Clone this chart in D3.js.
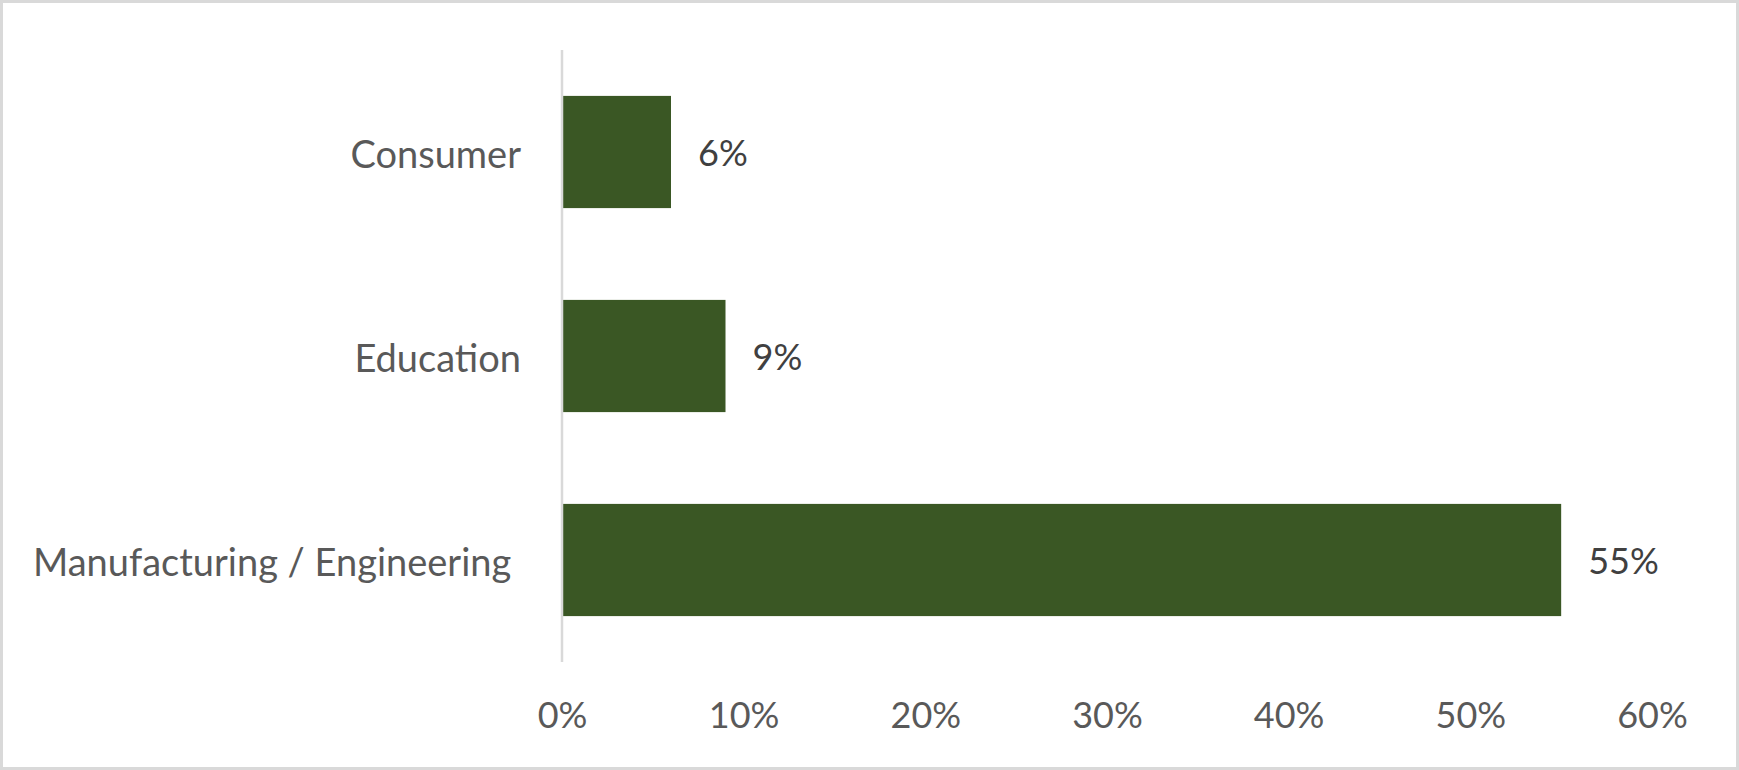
<!DOCTYPE html>
<html>
<head>
<meta charset="utf-8">
<script src="https://cdn.jsdelivr.net/npm/d3@7"></script>
<style>
  html, body { margin: 0; padding: 0; background: #fff; }
  svg { display: block; }
  text { font-family: Lato, "Open Sans", sans-serif; }
</style>
</head>
<body>
<svg id="chart" width="1739" height="770"></svg>
<script>
const categories = ["Consumer", "Education", "Manufacturing / Engineering "];
const values = [6, 9, 55];
const dataLabels = ["6%", "9%", "55%"];
const tickValues = [0, 10, 20, 30, 40, 50, 60];
const tickLabels = ["0%", "10%", "20%", "30%", "40%", "50%", "60%"];

const W = 1739, H = 770;
const plot = { left: 562, right: 1652, top: 50, bottom: 662 };
const fontSize = 36;
const catFontSize = 38;

const svg = d3.select("#chart");

svg.append("rect")
  .attr("x", 1.5).attr("y", 1.5)
  .attr("width", W - 3).attr("height", H - 3)
  .attr("fill", "#fff").attr("stroke", "#d9d9d9").attr("stroke-width", 3);

const x = d3.scaleLinear().domain([0, 60]).range([plot.left, plot.right]);
const y = d3.scaleBand().domain(categories).range([plot.top, plot.bottom])
  .paddingInner(0.45).paddingOuter(0.225);

// bars
svg.selectAll("rect.bar")
  .data(values)
  .join("rect")
  .attr("class", "bar")
  .attr("x", x(0))
  .attr("y", (d, i) => y(categories[i]))
  .attr("width", d => x(d) - x(0))
  .attr("height", y.bandwidth())
  .attr("fill", "#3a5724");

// vertical axis line
svg.append("line")
  .attr("x1", x(0)).attr("x2", x(0))
  .attr("y1", plot.top).attr("y2", plot.bottom)
  .attr("stroke", "#d9d9d9").attr("stroke-width", 2.5);

// category labels
svg.selectAll("text.cat")
  .data(categories)
  .join("text")
  .attr("class", "cat")
  .attr("x", x(0) - 41)
  .attr("y", d => y(d) + y.bandwidth() / 2 + 16)
  .attr("text-anchor", "end")
  .attr("font-size", catFontSize)
  .attr("fill", "#595959")
  .style("white-space", "pre")
  .text(d => d);

// data labels
svg.selectAll("text.val")
  .data(values)
  .join("text")
  .attr("class", "val")
  .attr("x", d => x(d) + 27)
  .attr("y", (d, i) => y(categories[i]) + y.bandwidth() / 2 + 14)
  .attr("font-size", fontSize)
  .attr("fill", "#404040")
  .text((d, i) => dataLabels[i]);

// x axis tick labels
const xAxis = d3.axisBottom(x)
  .tickValues(tickValues)
  .tickFormat((d, i) => tickLabels[i])
  .tickSize(0)
  .tickPadding(0);

const gx = svg.append("g")
  .attr("transform", `translate(0, ${plot.bottom})`)
  .call(xAxis);
gx.select(".domain").remove();
gx.selectAll("text")
  .attr("font-size", fontSize)
  .attr("font-family", "Lato, 'Open Sans', sans-serif")
  .attr("fill", "#595959")
  .attr("dy", null)
  .attr("y", 66);
</script>
</body>
</html>
